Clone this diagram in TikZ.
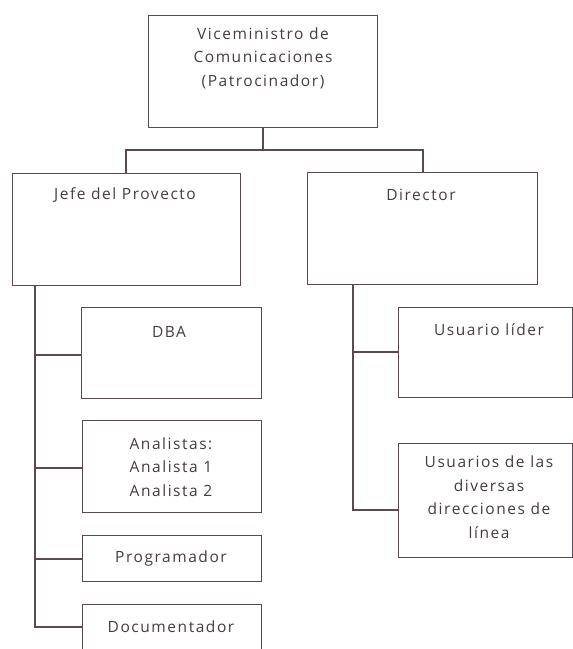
\documentclass[tikz,border=0pt]{standalone}
\usepackage{fontspec}
\setmainfont[LetterSpace=10]{Open Sans}
\definecolor{edge}{HTML}{5A4853}
\definecolor{ink}{HTML}{463B43}
\begin{document}
\begin{tikzpicture}[x=1pt,y=-1pt,
  box/.style={draw=edge, line width=1.4pt, fill=white, rectangle, inner sep=0pt, anchor=north west},
  txt/.style={text=ink, font=\fontsize{15.5}{23.5}\selectfont, align=center, inner sep=0pt},
  wire/.style={draw=edge, line width=1.3pt}]
\useasboundingbox (0,0) rectangle (573,649);
\clip (0,0) rectangle (573,649);
\fill[white] (0,0) rectangle (573,649);

% boxes: corner, width, height
\node[box, minimum width=229pt, minimum height=112pt] (vice) at (148,15) {};
\node[box, minimum width=228pt, minimum height=112pt] (jefe) at (12,173) {};
\node[box, minimum width=230pt, minimum height=112pt] (dir) at (307,172) {};
\node[box, minimum width=180pt, minimum height=91pt] (dba) at (81,307) {};
\node[box, minimum width=179pt, minimum height=92pt] (ana) at (82,420) {};
\node[box, minimum width=179pt, minimum height=46pt] (prog) at (82,535) {};
\node[box, minimum width=179pt, minimum height=60pt] (doc) at (82,604) {};
\node[box, minimum width=174pt, minimum height=90pt] (lider) at (398,307) {};
\node[box, minimum width=174pt, minimum height=114pt] (usu) at (398,443) {};

% texts
\node[txt] at (263,58) {Viceministro de\\Comunicaciones\\(Patrocinador)};
\node[txt] at (125,195) {Jefe del Provecto};
\node[txt] at (421,195) {Director};
\node[txt] at (169,332) {DBA};
\node[txt] at (171,467) {Analistas:\\Analista 1\\Analista 2};
\node[txt] at (171,558) {Programador};
\node[txt] at (171,627) {Documentador};
\node[txt] at (489,330) {Usuario líder};
\node[txt] at (489,497) {Usuarios de las\\diversas\\direcciones de\\línea};

% connectors
\coordinate (split) at (263,150);
\draw[wire] (vice.south -| split) -- (split);
\draw[wire] (jefe.north -| 126,0) |- (split) -| (dir.north -| 423,0);

\coordinate (lt) at (35,0);
\draw[wire] (jefe.south -| lt) |- (doc.west |- 0,627);
\draw[wire] (dba.west |- 0,355) -- (35,355);
\draw[wire] (ana.west |- 0,468) -- (35,468);
\draw[wire] (prog.west |- 0,559) -- (35,559);

\coordinate (rt) at (353,0);
\draw[wire] (dir.south -| rt) |- (usu.west |- 0,510);
\draw[wire] (lider.west |- 0,352) -- (353,352);
\end{tikzpicture}
\end{document}
